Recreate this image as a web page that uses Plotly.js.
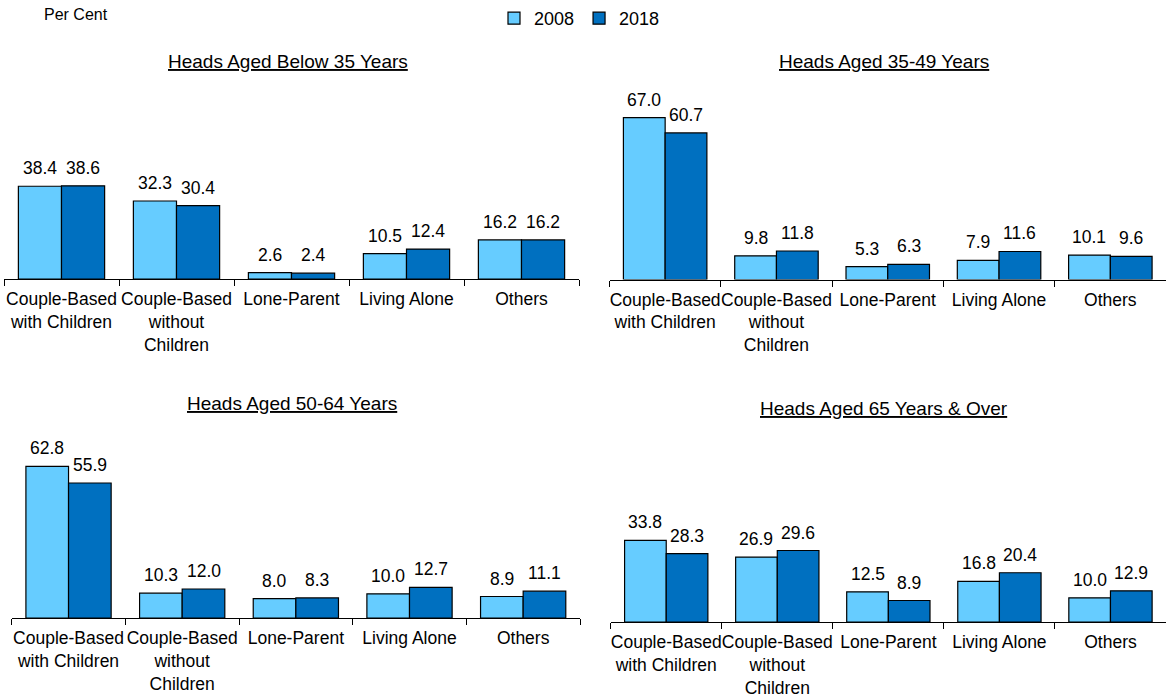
<!DOCTYPE html>
<html>
<head>
<meta charset="utf-8">
<script src="https://cdn.plot.ly/plotly-3.0.1.min.js"></script>
<style>
  html, body { margin: 0; padding: 0; background: #ffffff; }
  #chart { width: 1166px; height: 699px; }
</style>
</head>
<body>
<div id="chart"></div>
<script>
// ---- Data ----
const categories = [
  "Couple-Based<br>with Children",
  "Couple-Based<br>without<br>Children",
  "Lone-Parent",
  "Living Alone",
  "Others"
];
const seriesNames = ["2008", "2018"];
const panelTitles = [
  "Heads Aged Below 35 Years",
  "Heads Aged 35-49 Years",
  "Heads Aged 50-64 Years",
  "Heads Aged 65 Years & Over"
];
const below35_2008 = [38.4, 32.3, 2.6, 10.5, 16.2];
const below35_2018 = [38.6, 30.4, 2.4, 12.4, 16.2];
const aged35to49_2008 = [67.0, 9.8, 5.3, 7.9, 10.1];
const aged35to49_2018 = [60.7, 11.8, 6.3, 11.6, 9.6];
const aged50to64_2008 = [62.8, 10.3, 8.0, 10.0, 8.9];
const aged50to64_2018 = [55.9, 12.0, 8.3, 12.7, 11.1];
const aged65over_2008 = [33.8, 26.9, 12.5, 16.8, 10.0];
const aged65over_2018 = [28.3, 29.6, 8.9, 20.4, 12.9];

const panelData = [
  [below35_2008, below35_2018],
  [aged35to49_2008, aged35to49_2018],
  [aged50to64_2008, aged50to64_2018],
  [aged65over_2008, aged65over_2018]
];

// ---- Style / layout ----
const W = 1166, H = 699;
const colors = ["#66CCFF", "#0070C0"];
const FONT = "Liberation Sans, Arial, Helvetica, sans-serif";
const BARGAP = 0.25;
const YMAX = 70;
const PX_PER_UNIT = 2.415;
// pixel geometry of each panel: [x left, x right, baseline y]
const panelGeom = [
  [4, 579, 279],
  [609.5, 1166, 279.5],
  [11.7, 580, 618],
  [610.7, 1166, 622]
];
const titlePos = [[288, 62], [884, 62], [292, 403], [884, 408]];

const traces = [];
const layout = {
  width: W, height: H,
  margin: {l: 0, r: 0, t: 0, b: 0, pad: 0},
  paper_bgcolor: "#ffffff",
  plot_bgcolor: "rgba(0,0,0,0)",
  font: {family: FONT, size: 16, color: "#000000"},
  barmode: "group",
  bargap: BARGAP,
  bargroupgap: 0,
  showlegend: true,
  legend: {
    orientation: "h",
    x: 494 / W, xanchor: "left",
    y: 1, yanchor: "top",
    font: {family: FONT, size: 18, color: "#000000"},
    bgcolor: "rgba(0,0,0,0)",
    itemclick: false
  },
  annotations: [],
  hovermode: false
};

panelData.forEach((pair, p) => {
  const n = p + 1;
  const xa = n === 1 ? "x" : "x" + n;
  const ya = n === 1 ? "y" : "y" + n;
  const xKey = n === 1 ? "xaxis" : "xaxis" + n;
  const yKey = n === 1 ? "yaxis" : "yaxis" + n;
  const [xl, xr, base] = panelGeom[p];
  const yBottom = 1 - base / H;
  const yTop = 1 - (base - YMAX * PX_PER_UNIT) / H;

  layout[xKey] = {
    domain: [xl / W, xr / W],
    anchor: ya,
    type: "category",
    range: [-0.5, categories.length - 0.5],
    showline: true, linecolor: "#000000", linewidth: 1,
    ticks: "outside", tickson: "boundaries", ticklen: 6,
    tickcolor: "#000000", tickwidth: 1,
    tickangle: 0,
    ticklabelstandoff: 4,
    showgrid: false, zeroline: false,
    tickfont: {family: FONT, size: 17.5, color: "#000000"},
    fixedrange: true
  };
  layout[yKey] = {
    domain: [yBottom, yTop],
    anchor: xa,
    range: [0, YMAX],
    visible: false,
    showgrid: false, zeroline: false,
    fixedrange: true
  };

  pair.forEach((vals, s) => {
    traces.push({
      type: "bar",
      name: seriesNames[s],
      legendgroup: seriesNames[s],
      showlegend: p === 0,
      x: categories,
      y: vals,
      xaxis: xa, yaxis: ya,
      marker: {color: colors[s], line: {color: "#000000", width: 1.2}},
      hoverinfo: "skip"
    });
  });

  // value labels, placed over each bar through the axes
  const catPx = (xr - xl) / categories.length;
  const barPx = catPx * (1 - BARGAP) / 2;
  pair.forEach((vals, s) => {
    vals.forEach((v, i) => {
      layout.annotations.push({
        xref: xa, yref: ya,
        x: categories[i], y: v,
        xshift: (s === 0 ? -0.5 : 0.5) * barPx,
        yshift: 6,
        yanchor: "bottom", xanchor: "center",
        showarrow: false,
        text: v.toFixed(1),
        font: {family: FONT, size: 17.5, color: "#000000"}
      });
    });
  });

  layout.annotations.push({
    xref: "paper", yref: "paper",
    x: titlePos[p][0] / W, y: 1 - titlePos[p][1] / H,
    xanchor: "center", yanchor: "middle",
    showarrow: false,
    text: "<u>" + panelTitles[p] + "</u>",
    font: {family: FONT, size: 19, color: "#000000"}
  });
});

layout.annotations.push({
  xref: "paper", yref: "paper",
  x: 42 / W, y: 1 - 15 / H,
  xanchor: "left", yanchor: "middle",
  showarrow: false,
  text: "Per Cent",
  font: {family: FONT, size: 16, color: "#000000"}
});

Plotly.newPlot("chart", traces, layout, {displayModeBar: false, staticPlot: true});
</script>
</body>
</html>
